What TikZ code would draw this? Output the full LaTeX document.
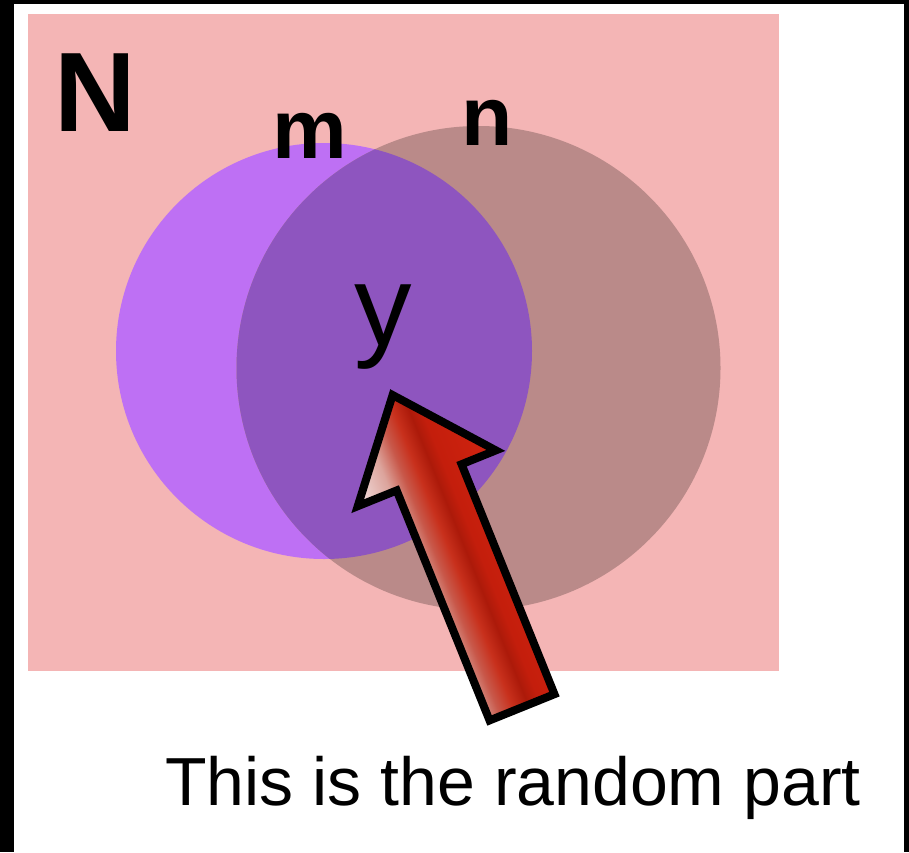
\documentclass[tikz,border=0pt]{standalone}
\usepackage{fontspec}
\setmainfont{Liberation Sans}
\definecolor{pinkbg}{HTML}{F4B5B5}
\definecolor{setmcol}{HTML}{BE70F4}
\definecolor{setncol}{HTML}{BA8A89}
\definecolor{intercol}{HTML}{8E55BF}
\definecolor{arrW}{HTML}{F4E4E4}
\definecolor{arrP}{HTML}{DCA49C}
\definecolor{arrL}{HTML}{C8584A}
\definecolor{arrM}{HTML}{C8301C}
\definecolor{arrD}{HTML}{AC1A0A}
\definecolor{arrR}{HTML}{C41E0C}
\definecolor{arrB}{HTML}{D02410}
\pgfdeclarehorizontalshading{arrowshade}{100bp}{color(0bp)=(arrW); color(25bp)=(arrW); color(37bp)=(arrP); color(43bp)=(arrL); color(48bp)=(arrM); color(53bp)=(arrD); color(57bp)=(arrR); color(75bp)=(arrB); color(100bp)=(arrB)}
\tikzset{
  setdisk/.style={circle, inner sep=0pt, draw=none},
  boldlabel/.style={inner sep=0pt, anchor=base, font=\bfseries\fontsize{84}{84}\selectfont},
}
\begin{document}
\begin{tikzpicture}[x=1pt, y=-1pt]
\useasboundingbox (0,0) rectangle (909,852);
% black frame and white page
\fill[black] (0,0) rectangle (909,852);
\fill[white] (14,4) rectangle (904,852);
% universe N
\fill[pinkbg] (28,14) rectangle (779,671);
% sets
\node[setdisk, fill=setmcol, minimum size=416pt] (setM) at (324,351) {};
\node[setdisk, fill=setncol, minimum size=484pt] (setN) at (478.5,368) {};
\begin{scope}
  \clip (setM.center) circle (208pt);
  \fill[intercol] (setN.center) circle (242pt);
\end{scope}
% labels
\node[inner sep=0pt, anchor=base, font=\bfseries\fontsize{113}{113}\selectfont] (labN) at (95,131) {N};
\node[boldlabel] (labm) at (310,158) {m};
\node[boldlabel] (labn) at (487,145) {n};
\node[inner sep=0pt, anchor=base, font=\fontsize{115}{115}\selectfont] (laby) at (383,345) {y};
\node[inner sep=0pt, anchor=base, font=\fontsize{68}{68}\selectfont] (caption) at (513,805) {This is the random part};
% block arrow
\begin{scope}[transform canvas={shift={(523.5pt,-711pt)}, rotate=22}, x=1pt, y=1pt]
  \path[draw=black, line width=8pt, line join=miter, shading=arrowshade, shading angle=0]
    (-35,4) -- (35,4) -- (35,252) -- (72,252) -- (-3,342) -- (-77,252) -- (-35,252) -- cycle;
\end{scope}
\end{tikzpicture}
\end{document}
